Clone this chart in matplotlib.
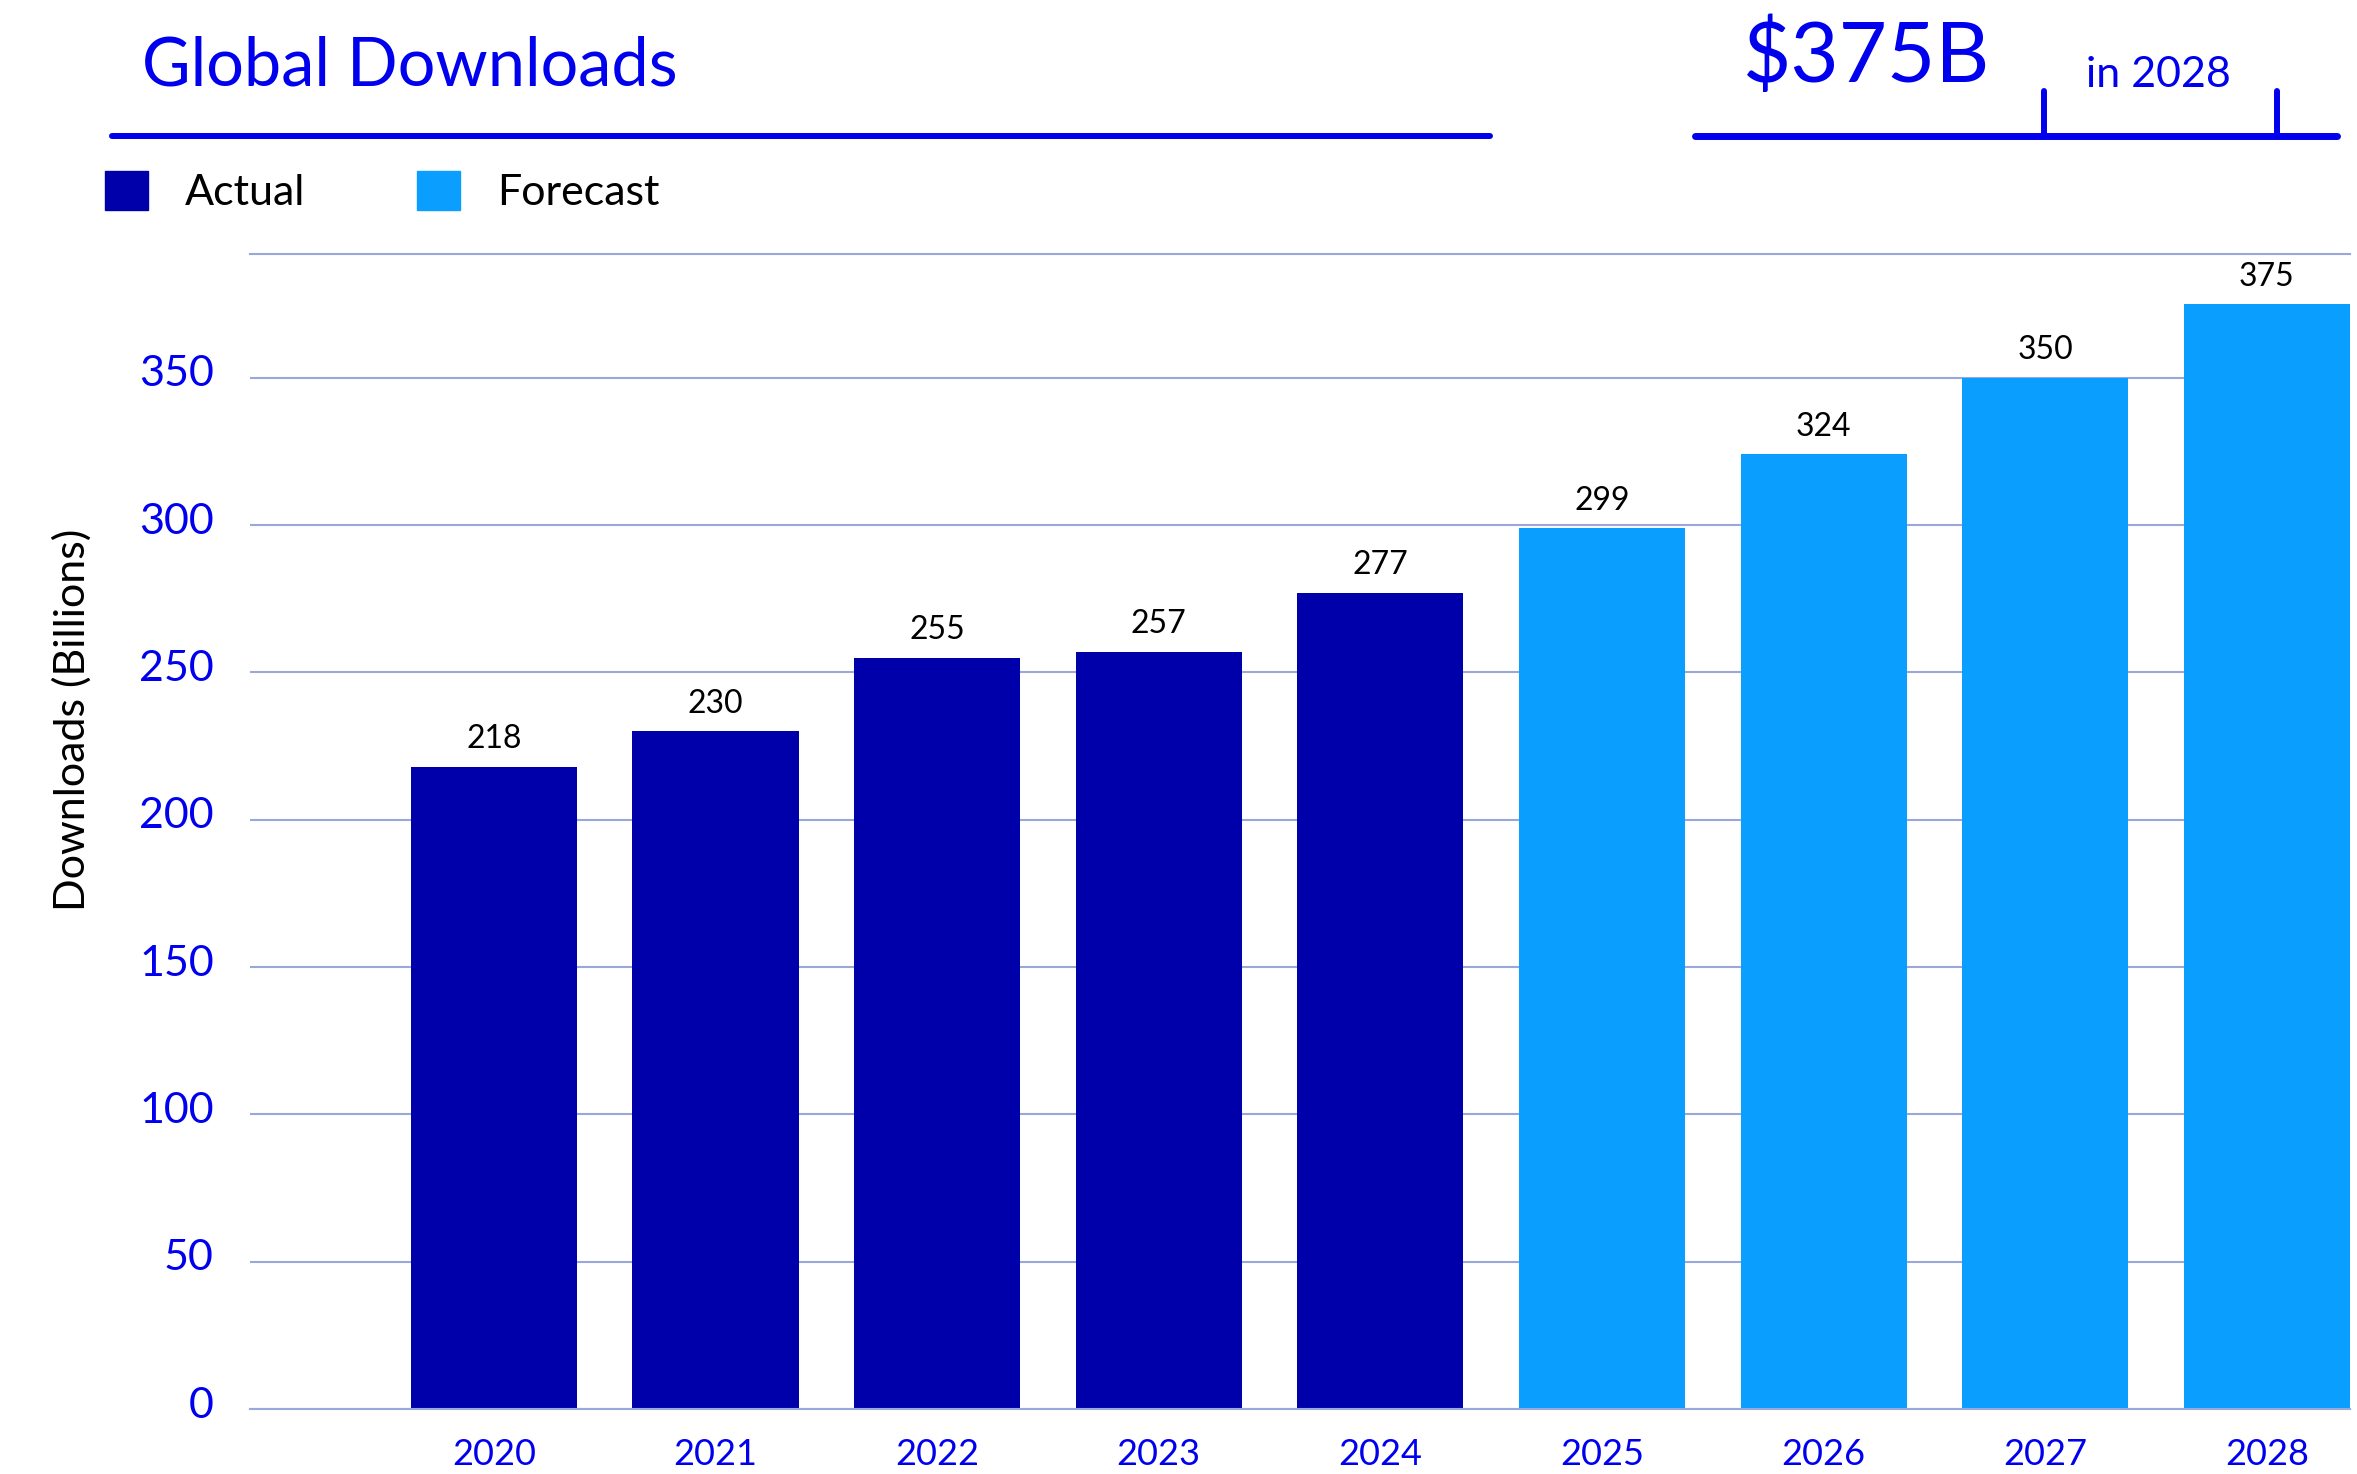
import numpy as np
import matplotlib.pyplot as plt
import matplotlib.transforms as mtransforms
from matplotlib.lines import Line2D
from matplotlib.patches import Patch

# Global downloads in billions, actuals then forecast
years = ['2020', '2021', '2022', '2023', '2024', '2025', '2026', '2027', '2028']
actual = [218, 230, 255, 257, 277]
forecast = [299, 324, 350, 375]
yticks = [0, 50, 100, 150, 200, 250, 300, 350]

ACTUAL_COLOR = '#0000AA'
FORECAST_COLOR = '#0A9EFF'
TEXT_BLUE = '#0000EE'
GRID_COLOR = '#9AA7DA'

W, H = 2357, 1474
plt.rcParams['font.family'] = ['Lato', 'DejaVu Sans']


def fx(px):
    return px / W


def fy(py):
    return 1 - py / H


fig = plt.figure(figsize=(W / 100, H / 100), dpi=100)
ax = fig.add_axes([fx(250), fy(1409), fx(2350 - 250), (1409 - 254) / H])

x = np.arange(len(years))
n_act = len(actual)
bars_a = ax.bar(x[:n_act], actual, width=0.75, color=ACTUAL_COLOR, zorder=2)
bars_f = ax.bar(x[n_act:], forecast, width=0.75, color=FORECAST_COLOR, zorder=2)
for b in (bars_a, bars_f):
    ax.bar_label(b, padding=9, fontsize=23, color='black')

ax.set_xlim(-1.1, 8.375)
ax.set_ylim(0, 392)
ax.set_xticks(x)
ax.set_xticklabels(years)
ax.set_yticks(yticks)
ax.tick_params(axis='both', length=0)
ax.tick_params(axis='x', pad=21, labelsize=26, labelcolor=TEXT_BLUE)
ax.tick_params(axis='y', pad=26, labelsize=31, labelcolor=TEXT_BLUE)

# nudge y tick labels up a little
shift = mtransforms.ScaledTranslation(0, 5 / 72, fig.dpi_scale_trans)
for lab in ax.get_yticklabels():
    lab.set_transform(lab.get_transform() + shift)

ax.set_axisbelow(True)
ax.yaxis.grid(True, color=GRID_COLOR, linewidth=1.5)
for side in ['left', 'right']:
    ax.spines[side].set_visible(False)
for side in ['top', 'bottom']:
    ax.spines[side].set_color(GRID_COLOR)
    ax.spines[side].set_linewidth(1.5)

ax.set_ylabel('Downloads (Billions)', fontsize=31, color='black', va='center')
ax.yaxis.set_label_coords((72 - 250) / (2350 - 250), (1409 - 720) / (1409 - 254))

# header: title with underline
fig.text(fx(142), fy(85), 'Global Downloads', fontsize=48, color=TEXT_BLUE,
         ha='left', va='baseline')
fig.add_artist(Line2D([fx(112), fx(1490)], [fy(136), fy(136)], transform=fig.transFigure,
                      color=TEXT_BLUE, lw=4.3, solid_capstyle='round'))

# header: 2028 callout
fig.text(fx(1743), fy(82), '$375B', fontsize=60, color=TEXT_BLUE, ha='left', va='baseline')
fig.text(fx(2086), fy(87), 'in 2028', fontsize=31, color=TEXT_BLUE, ha='left', va='baseline')
fig.add_artist(Line2D([fx(1695), fx(2337)], [fy(136), fy(136)], transform=fig.transFigure,
                      color=TEXT_BLUE, lw=5, solid_capstyle='round'))
for tx in (2044, 2277):
    fig.add_artist(Line2D([fx(tx), fx(tx)], [fy(91), fy(136)], transform=fig.transFigure,
                          color=TEXT_BLUE, lw=4.3, solid_capstyle='round'))

handles = [Patch(color=ACTUAL_COLOR, label='Actual'),
           Patch(color=FORECAST_COLOR, label='Forecast')]
fig.legend(handles=handles, loc='upper left', bbox_to_anchor=(fx(105), fy(171)),
           ncol=2, frameon=False, fontsize=31, handlelength=1.0, handleheight=1.0,
           handletextpad=0.86, columnspacing=2.6, borderpad=0, borderaxespad=0)

fig.savefig('out.png', dpi=100)
